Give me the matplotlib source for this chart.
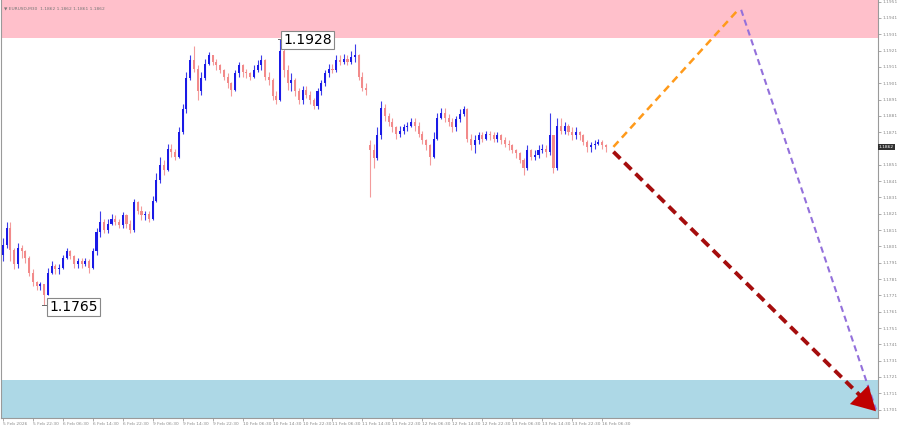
import matplotlib.pyplot as plt
import numpy as np

# EURUSD M30 (one candle here = 1 hour of the picture), prices
first_open = 1.1796
closes = [
    1.1802, 1.1812, 1.1799, 1.1790, 1.1800, 1.1798, 1.1794, 1.1785, 1.1779, 1.1777,
    1.1778, 1.1771, 1.1785, 1.1789, 1.1787, 1.1788, 1.1794, 1.1798, 1.1795, 1.1790,
    1.1792, 1.1790, 1.1792, 1.1788, 1.1798, 1.1810, 1.1816, 1.1811, 1.1815, 1.1818,
    1.1816, 1.1814, 1.1820, 1.1815, 1.1811, 1.1828, 1.1823, 1.1820, 1.1821, 1.1818,
    1.1829, 1.1842, 1.1851, 1.1848, 1.1861, 1.1859, 1.1856, 1.1871, 1.1885, 1.1904,
    1.1915, 1.1910, 1.1896, 1.1904, 1.1913, 1.1918, 1.1914, 1.1912, 1.1909, 1.1905,
    1.1901, 1.1897, 1.1907, 1.1912, 1.1908, 1.1907, 1.1905, 1.1909, 1.1912, 1.1915,
    1.1905, 1.1903, 1.1893, 1.1891, 1.1921, 1.1909, 1.1901, 1.1903, 1.1896, 1.1891,
    1.1897, 1.1894, 1.1891, 1.1887, 1.1896, 1.1901, 1.1907, 1.1910, 1.1909, 1.1915,
    1.1914, 1.1916, 1.1914, 1.1917, 1.1918, 1.1905, 1.1898, 1.1897, 1.1860, 1.1855,
    1.1869, 1.1886, 1.1881, 1.1877, 1.1874, 1.1870, 1.1872, 1.1874, 1.1875, 1.1877,
    1.1875, 1.1870, 1.1866, 1.1863, 1.1856, 1.1867, 1.1880, 1.1883, 1.1880, 1.1877,
    1.1874, 1.1879, 1.1882, 1.1885, 1.1867, 1.1863, 1.1866, 1.1869, 1.1867, 1.1870,
    1.1869, 1.1867, 1.1869, 1.1866, 1.1864, 1.1863, 1.1860, 1.1858, 1.1854, 1.1849,
    1.1860, 1.1856, 1.1857, 1.1860, 1.1861, 1.1859, 1.1869, 1.1849, 1.1875, 1.1872,
    1.1875, 1.1871, 1.1869, 1.1871, 1.1869, 1.1865, 1.1862, 1.1863, 1.1864, 1.1865,
    1.1863, 1.1862,
]
highs = [
    1.1806, 1.1816, 1.1816, 1.1800, 1.1803, 1.1802, 1.1799, 1.1795, 1.1787, 1.1780,
    1.1779, 1.1778, 1.1788, 1.1792, 1.1790, 1.1790, 1.1796, 1.1800, 1.1799, 1.1796,
    1.1794, 1.1794, 1.1794, 1.1793, 1.1800, 1.1812, 1.1823, 1.1818, 1.1818, 1.1821,
    1.1820, 1.1818, 1.1822, 1.1821, 1.1817, 1.1830, 1.1829, 1.1826, 1.1823, 1.1823,
    1.1832, 1.1846, 1.1856, 1.1854, 1.1864, 1.1864, 1.1861, 1.1874, 1.1888, 1.1908,
    1.1918, 1.1924, 1.1912, 1.1908, 1.1916, 1.1920, 1.1918, 1.1916, 1.1913, 1.1910,
    1.1907, 1.1902, 1.1909, 1.1914, 1.1913, 1.1910, 1.1908, 1.1912, 1.1915, 1.1918,
    1.1916, 1.1908, 1.1904, 1.1896, 1.1928, 1.1923, 1.1912, 1.1907, 1.1904, 1.1898,
    1.1899, 1.1899, 1.1896, 1.1892, 1.1898, 1.1903, 1.1909, 1.1913, 1.1913, 1.1918,
    1.1918, 1.1919, 1.1918, 1.1921, 1.1925, 1.1919, 1.1908, 1.1901, 1.1866, 1.1864,
    1.1874, 1.1890, 1.1888, 1.1883, 1.1880, 1.1875, 1.1875, 1.1876, 1.1877, 1.1880,
    1.1880, 1.1877, 1.1872, 1.1867, 1.1864, 1.1871, 1.1883, 1.1886, 1.1886, 1.1882,
    1.1880, 1.1881, 1.1885, 1.1887, 1.1886, 1.1870, 1.1869, 1.1871, 1.1871, 1.1872,
    1.1872, 1.1871, 1.1871, 1.1870, 1.1868, 1.1866, 1.1864, 1.1861, 1.1859, 1.1855,
    1.1863, 1.1861, 1.1860, 1.1863, 1.1864, 1.1863, 1.1883, 1.1863, 1.1880, 1.1880,
    1.1877, 1.1876, 1.1874, 1.1874, 1.1872, 1.1870, 1.1866, 1.1865, 1.1866, 1.1867,
    1.1866, 1.1864,
]
lows = [
    1.1792, 1.1800, 1.1792, 1.1787, 1.1788, 1.1794, 1.1791, 1.1783, 1.1777, 1.1774,
    1.1774, 1.1765, 1.1771, 1.1784, 1.1784, 1.1784, 1.1787, 1.1793, 1.1793, 1.1788,
    1.1788, 1.1788, 1.1789, 1.1785, 1.1787, 1.1796, 1.1807, 1.1809, 1.1809, 1.1814,
    1.1814, 1.1812, 1.1812, 1.1812, 1.1809, 1.1810, 1.1821, 1.1817, 1.1817, 1.1816,
    1.1817, 1.1828, 1.1840, 1.1845, 1.1847, 1.1856, 1.1854, 1.1855, 1.1870, 1.1883,
    1.1903, 1.1908, 1.1891, 1.1894, 1.1903, 1.1912, 1.1912, 1.1909, 1.1907, 1.1903,
    1.1898, 1.1893, 1.1896, 1.1905, 1.1905, 1.1904, 1.1903, 1.1904, 1.1908, 1.1909,
    1.1903, 1.1900, 1.1891, 1.1888, 1.1890, 1.1905, 1.1897, 1.1896, 1.1893, 1.1888,
    1.1888, 1.1892, 1.1888, 1.1885, 1.1885, 1.1894, 1.1899, 1.1905, 1.1907, 1.1908,
    1.1912, 1.1913, 1.1912, 1.1913, 1.1914, 1.1903, 1.1896, 1.1894, 1.1831, 1.1849,
    1.1854, 1.1867, 1.1878, 1.1875, 1.1871, 1.1867, 1.1868, 1.1870, 1.1872, 1.1874,
    1.1872, 1.1868, 1.1864, 1.1860, 1.1851, 1.1855, 1.1866, 1.1879, 1.1877, 1.1875,
    1.1871, 1.1872, 1.1877, 1.1881, 1.1865, 1.1860, 1.1858, 1.1864, 1.1865, 1.1866,
    1.1866, 1.1865, 1.1865, 1.1864, 1.1862, 1.1860, 1.1858, 1.1855, 1.1852, 1.1845,
    1.1848, 1.1854, 1.1854, 1.1855, 1.1858, 1.1856, 1.1857, 1.1846, 1.1848, 1.1870,
    1.1870, 1.1869, 1.1866, 1.1867, 1.1866, 1.1863, 1.1859, 1.1859, 1.1861, 1.1863,
    1.1861, 1.1859,
]
gap_bar = 98          # 11 Feb opening gap
gap_open = 1.1863

time_labels = [
    "5 Feb 2026", "5 Feb 22:30", "6 Feb 06:30", "6 Feb 14:30", "6 Feb 22:30",
    "9 Feb 06:30", "9 Feb 14:30", "9 Feb 22:30", "10 Feb 06:30", "10 Feb 14:30",
    "10 Feb 22:30", "11 Feb 06:30", "11 Feb 14:30", "11 Feb 22:30", "12 Feb 06:30",
    "12 Feb 14:30", "12 Feb 22:30", "13 Feb 06:30", "13 Feb 14:30", "13 Feb 22:30",
    "16 Feb 06:30",
]
label_step = 8

price_ticks = [1.1701, 1.1711, 1.1721, 1.1731, 1.1741, 1.1751, 1.1761, 1.1771,
               1.1781, 1.1791, 1.1801, 1.1811, 1.1821, 1.1831, 1.1841, 1.1851,
               1.1861, 1.1871, 1.1881, 1.1891, 1.1901, 1.1911, 1.1921, 1.1931,
               1.1941, 1.1951]

resistance_zone = (1.1929, 1.1970)
support_zone = (1.1680, 1.1719)

swing_high = (74, 1.1928)
swing_low = (11, 1.1765)
last_price = 1.1862

# forecast paths
alt_bars = [163, 196.3, 197.1, 233.1]
alt_prices = [1.1862, 1.1946, 1.1946, 1.1701]
main_bars = [163, 233.1]
main_prices = [1.1859, 1.1700]

# ---------------------------------------------------------------------------
opens = [first_open] + closes[:-1]
opens[gap_bar] = gap_open
o = np.array(opens)
c = np.array(closes)
h = np.array(highs)
l = np.array(lows)
idx = np.arange(len(c))
up = c >= o

bull = "#1a1ae6"
bear = "#f28a8a"

fig = plt.figure(figsize=(9, 4.3), dpi=100)
ax = fig.add_axes([0.001, 0.028, 0.9744, 0.972])

ax.axhspan(*resistance_zone, color="#ffc0cb", zorder=0, lw=0)
ax.axhspan(*support_zone, color="#add8e6", zorder=0, lw=0)

colors = np.where(up, bull, bear)
ax.vlines(idx, l, h, colors=colors, lw=0.8, alpha=0.85, zorder=2)
body_lo = np.minimum(o, c)
body_h = np.maximum(np.abs(c - o), 0.00004)
ax.bar(idx, body_h, bottom=body_lo, width=0.55, color=colors, lw=0, zorder=3)


def on_main(back):
    # point on the main forecast path, `back` bars before its end
    t = 1 - back / (main_bars[1] - main_bars[0])
    return main_bars[1] - back, main_prices[0] + (main_prices[1] - main_prices[0]) * t


# forecast lines
ax.plot(alt_bars[:2], alt_prices[:2], color="#ff9a1a", lw=1.8, ls=(0, (3, 2)), zorder=4)
ax.plot(alt_bars[2:], alt_prices[2:], color="#9370db", lw=1.5, ls=(0, (3, 2)), zorder=4)
mx, my = on_main(4)
ax.plot([main_bars[0], mx], [main_prices[0], my], color="#a50d0d", lw=2.8,
        ls=(0, (2.5, 1.5)), zorder=5)
ax.annotate("", xy=(main_bars[1], main_prices[1]), xytext=on_main(6),
            arrowprops=dict(arrowstyle="-|>,head_length=1.7,head_width=0.95", color="#c00000", lw=0,
                            mutation_scale=10, shrinkA=0, shrinkB=0), zorder=6)

# swing labels
box = dict(boxstyle="square,pad=0.15", fc="white", ec="#888888", lw=0.8)
ax.plot([swing_high[0] - 0.6, swing_high[0] + 0.6], [swing_high[1], swing_high[1]], color="#666", lw=0.7)
ax.text(swing_high[0] + 0.9, swing_high[1] - 0.00005, f"{swing_high[1]:.4f}", fontsize=10,
        va="center", ha="left", bbox=box, zorder=7)
ax.plot([swing_low[0] - 0.5, swing_low[0] + 1.2], [swing_low[1], swing_low[1]], color="#666", lw=0.7)
ax.text(swing_low[0] + 1.3, swing_low[1] - 0.00012, f"{swing_low[1]:.4f}", fontsize=10,
        va="center", ha="left", bbox=box, zorder=7)

# header
ax.text(0.004, 0.985, "\u25bc EURUSD,M30  1.1862 1.1862 1.1861 1.1862", transform=ax.transAxes,
        fontsize=3.2, color="#777777", va="top", ha="left")

ax.set_xlim(-0.53, 233.6)
ax.set_ylim(1.16959, 1.1952)

ax.yaxis.tick_right()
ax.set_yticks(price_ticks)
# the current-price box covers the level right under it
ax.set_yticklabels(["" if abs(p - last_price) < 0.0003 else f"{p:.4f}" for p in price_ticks])
ax.set_xticks(np.arange(len(time_labels)) * label_step)
ax.set_xticklabels(time_labels, ha="left")
ax.tick_params(axis="both", labelsize=3.2, colors="#8a8a8a", length=2, width=0.5, pad=1.2)

for s in ["left", "right", "bottom"]:
    ax.spines[s].set_color("#9a9a9a")
    ax.spines[s].set_linewidth(0.8)
ax.spines["top"].set_visible(False)

ax.text(1.001, last_price, f"{last_price:.4f}", transform=ax.get_yaxis_transform(),
        fontsize=3.2, color="white", va="center", ha="left", clip_on=False,
        bbox=dict(boxstyle="square,pad=0.25", fc="#303030", ec="none"), zorder=10)

fig.savefig("out.png", dpi=100, facecolor="white")
